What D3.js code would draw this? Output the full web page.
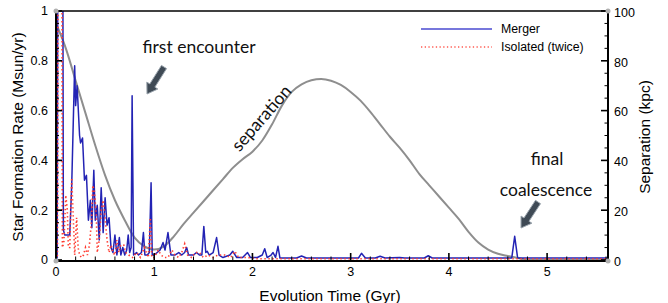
<!DOCTYPE html>
<html><head><meta charset="utf-8">
<script src="https://cdn.jsdelivr.net/npm/d3@7"></script>
<style>body{margin:0;background:#fff}svg{display:block}</style>
</head><body><svg id="c" width="668" height="303"></svg>
<script>
// ---- data ----
const mergerTime = [0,0.012,0.02,0.068,0.075,0.09,0.12,0.14,0.16,0.19,0.20,0.215,0.24,0.25,0.27,0.29,0.31,0.33,0.35,0.365,0.385,0.40,0.42,0.44,0.46,0.48,0.50,0.52,0.54,0.56,0.58,0.60,0.62,0.645,0.66,0.68,0.70,0.72,0.735,0.75,0.765,0.775,0.79,0.82,0.84,0.87,0.89,0.905,0.93,0.95,0.968,0.98,1.00,1.03,1.06,1.09,1.11,1.14,1.17,1.21,1.25,1.28,1.31,1.33,1.35,1.40,1.43,1.46,1.485,1.505,1.525,1.54,1.56,1.60,1.635,1.66,1.70,1.77,1.80,1.84,1.90,1.95,1.98,2.05,2.10,2.125,2.15,2.19,2.21,2.235,2.26,2.28,2.45,2.50,2.55,3.08,3.11,3.15,3.25,3.30,3.35,3.50,3.55,3.75,3.79,3.83,4.64,4.67,4.70,5.62];
const mergerSFR  = [0,0.01,1.5,1.5,0.12,0.10,0.10,0.10,0.30,0.78,0.62,0.70,0.50,0.47,0.49,0.32,0.34,0.16,0.24,0.13,0.36,0.16,0.22,0.08,0.29,0.11,0.25,0.14,0.17,0.05,0.03,0.10,0.02,0.09,0.02,0.05,0.02,0.04,0.10,0.03,0.05,0.66,0.02,0.03,0.02,0.03,0.11,0.02,0.02,0.03,0.31,0.02,0.02,0.03,0.04,0.07,0.04,0.11,0.02,0.02,0.03,0.02,0.03,0.05,0.02,0.02,0.03,0.02,0.02,0.135,0.03,0.035,0.02,0.03,0.09,0.02,0.01,0.02,0.035,0.01,0.01,0.03,0.01,0.01,0.02,0.045,0.01,0.02,0.03,0.01,0.055,0.008,0.008,0.016,0.008,0.008,0.027,0.008,0.008,0.015,0.008,0.01,0.008,0.008,0.017,0.008,0.008,0.095,0.008,0.008];
const isolatedTime = [0,0.015,0.022,0.06,0.065,0.08,0.10,0.115,0.125,0.14,0.16,0.175,0.19,0.21,0.225,0.24,0.26,0.28,0.30,0.32,0.34,0.36,0.375,0.39,0.41,0.42,0.44,0.46,0.48,0.50,0.52,0.54,0.56,0.58,0.60,0.62,0.64,0.66,0.69,0.71,0.74,0.78,0.82,0.86,0.90,0.94,0.96,0.975,1.00,1.04,1.07,1.10,1.14,1.18,1.21,1.25,1.28,1.31,1.34,1.38,1.42,1.46,1.50,1.55,1.60,1.65,1.72,1.78,1.82,1.86,1.95,2.05,5.62];
const isolatedSFR  = [0,0.02,1.5,1.5,0.05,0.07,0.26,0.20,0.05,0.05,0.33,0.18,0.02,0.17,0.05,0.02,0.01,0.02,0.05,0.02,0.06,0.15,0.30,0.28,0.18,0.03,0.08,0.20,0.24,0.17,0.08,0.03,0.06,0.03,0.02,0.08,0.03,0.06,0.06,0.03,0.02,0.01,0.03,0.01,0.05,0.01,0.17,0.01,0.01,0.04,0.02,0.01,0.01,0.04,0.02,0.01,0.03,0.065,0.02,0.01,0.03,0.03,0.01,0.02,0.01,0.02,0.02,0.01,0.035,0.01,0.01,0.005,0.005];
const sepTime = [0,0.1,0.2,0.3,0.4,0.5,0.6,0.7,0.8,0.9,1.0,1.1,1.2,1.3,1.4,1.5,1.6,1.7,1.8,1.9,2.0,2.1,2.2,2.3,2.4,2.5,2.6,2.7,2.8,2.9,3.0,3.1,3.2,3.3,3.4,3.5,3.6,3.7,3.8,3.9,4.0,4.1,4.2,4.3,4.4,4.5,4.6,4.7,4.8,5.62];
const sepKpc  = [95,85,72,59,46,34,24,16,9,5.5,4.2,5.5,9.5,14.5,19,23.5,28,32.5,37,40.5,43.5,48,54.5,62,67.5,70.5,72.2,72.7,72,70.3,67.5,64,59.5,54.5,49.5,45,40,34.5,30,25.5,21,16.5,11.3,7,4.2,2.5,1.6,0.8,0,0];
const xTicks = [0,1,2,3,4,5];
const sfrTicks = [0,0.2,0.4,0.6,0.8,1];
const sepTicks = [0,20,40,60,80,100];
const seriesNames = ["Merger","Isolated (twice)"];

// ---- layout ----
const L=56,R=608,T=11,B=260;
const svg=d3.select("#c");
const x=d3.scaleLinear().domain([0,5.62]).range([L,R]);
const y=d3.scaleLinear().domain([0,1]).range([B,T]);
const y2=d3.scaleLinear().domain([0,100]).range([B,T]);
const helv="'Liberation Sans', Arial, Helvetica, sans-serif";
const gill="Lato, 'Open Sans', sans-serif";

svg.append("clipPath").attr("id","clip").append("rect").attr("x",L).attr("y",T).attr("width",R-L).attr("height",B-T+1);
const g=svg.append("g").attr("clip-path","url(#clip)");

const sepData=sepTime.map((t,i)=>[t,sepKpc[i]]);
g.append("path").datum(sepData).attr("fill","none").attr("stroke","#8e8e8e").attr("stroke-width",2)
 .attr("d",d3.line().x(d=>x(d[0])).y(d=>y2(d[1])).curve(d3.curveMonotoneX));

const mData=mergerTime.map((t,i)=>[t,mergerSFR[i]]);
g.append("path").datum(mData).attr("fill","none").attr("stroke","#2323b4").attr("stroke-width",1.5).attr("stroke-linejoin","round")
 .attr("d",d3.line().x(d=>x(d[0])).y(d=>y(d[1])));

const iData=isolatedTime.map((t,i)=>[t,isolatedSFR[i]]);
g.append("path").datum(iData).attr("fill","none").attr("stroke","#ff3b30").attr("stroke-width",1.6).attr("stroke-dasharray","1.4,2.6")
 .attr("d",d3.line().x(d=>x(d[0])).y(d=>y(d[1])));

// ---- axes ----
const ax=svg.append("g");
// frame
ax.append("line").attr("x1",L).attr("x2",R).attr("y1",T).attr("y2",T).attr("stroke","#000").attr("stroke-width",1.5);
ax.append("line").attr("x1",L).attr("x2",R).attr("y1",B+1).attr("y2",B+1).attr("stroke","#000").attr("stroke-width",2);
ax.append("line").attr("x1",L).attr("x2",L).attr("y1",T).attr("y2",B+1).attr("stroke","#000").attr("stroke-width",2);
ax.append("line").attr("x1",R).attr("x2",R).attr("y1",T).attr("y2",B+1).attr("stroke","#000").attr("stroke-width",2);

// left ticks
d3.range(0,1.0001,0.05).forEach(v=>{
  const maj=Math.abs(v*5-Math.round(v*5))<1e-6;
  ax.append("line").attr("x1",L).attr("x2",L+(maj?6:3)).attr("y1",y(v)).attr("y2",y(v)).attr("stroke","#000").attr("stroke-width",maj?1.6:1);
});
// right ticks
d3.range(0,100.001,5).forEach(v=>{
  const maj=v%20===0;
  ax.append("line").attr("x1",R).attr("x2",R-(maj?7:3.5)).attr("y1",y2(v)).attr("y2",y2(v)).attr("stroke","#000").attr("stroke-width",maj?1.6:1);
});
// bottom ticks
d3.range(0,5.601,0.2).forEach(v=>{
  const maj=Math.abs(v-Math.round(v))<1e-6;
  ax.append("line").attr("x1",x(v)).attr("x2",x(v)).attr("y1",B).attr("y2",B-(maj?7:3.5)).attr("stroke","#000").attr("stroke-width",maj?1.6:1);
});
// corner markers
[[L,T],[L,B+1],[R,T],[R,B+1]].forEach(p=>ax.append("circle").attr("cx",p[0]).attr("cy",p[1]).attr("r",2.5).attr("fill","#b0b0b0"));

// tick labels
const lab=svg.append("g").attr("font-family",helv).attr("font-size",12.5).attr("fill","#000");
sfrTicks.forEach(v=>lab.append("text").attr("x",48).attr("y",y(v)).attr("dy","0.35em").attr("text-anchor","end").text(d3.format("~g")(v)));
sepTicks.forEach(v=>lab.append("text").attr("x",614).attr("y",y2(v)+1.5).attr("dy","0.35em").attr("text-anchor","start").text(v));
xTicks.forEach(v=>lab.append("text").attr("x",x(v)).attr("y",276).attr("text-anchor","middle").text(v));

// axis titles
svg.append("text").attr("x",330).attr("y",301).attr("text-anchor","middle").attr("font-family",helv).attr("font-size",15.5).text("Evolution Time (Gyr)");
svg.append("text").attr("transform","translate(23,137) rotate(-90)").attr("text-anchor","middle").attr("font-family",helv).attr("font-size",15.5).text("Star Formation Rate (Msun/yr)");
svg.append("text").attr("transform","translate(650,137) rotate(-90)").attr("text-anchor","middle").attr("font-family",helv).attr("font-size",15.5).text("Separation (kpc)");

// legend
const lg=svg.append("g").attr("font-family",helv).attr("font-size",12.3);
lg.append("line").attr("x1",421).attr("x2",492).attr("y1",29).attr("y2",29).attr("stroke","#4a4ad0").attr("stroke-width",1.3);
lg.append("line").attr("x1",421).attr("x2",492).attr("y1",47).attr("y2",47).attr("stroke","#ff5a50").attr("stroke-width",1.3).attr("stroke-dasharray","1.3,2.4");
lg.append("text").attr("x",501).attr("y",29).attr("dy","0.35em").text(seriesNames[0]);
lg.append("text").attr("x",501).attr("y",47).attr("dy","0.35em").text(seriesNames[1]);

// annotations
const an=svg.append("g").attr("font-family",gill).attr("font-size",17.5).attr("fill","#111");
an.append("text").attr("x",199).attr("y",53).attr("text-anchor","middle").text("first encounter");
an.append("text").attr("x",547).attr("y",165).attr("text-anchor","middle").text("final");
an.append("text").attr("x",546).attr("y",196).attr("text-anchor","middle").text("coalescence");
an.append("text").attr("transform","translate(266,122) rotate(-49)").attr("text-anchor","middle").text("separation");

function arrow(x1,y1,x2,y2){
  const dx=x2-x1,dy=y2-y1,len=Math.hypot(dx,dy),ux=dx/len,uy=dy/len,px=-uy,py=ux;
  const sw=3,hw=6.5,hl=10;
  const bx=x2-ux*hl,by=y2-uy*hl;
  const pts=[[x1+px*sw,y1+py*sw],[bx+px*sw,by+py*sw],[bx+px*hw,by+py*hw],[x2,y2],[bx-px*hw,by-py*hw],[bx-px*sw,by-py*sw],[x1-px*sw,y1-py*sw]];
  svg.append("polygon").attr("points",pts.map(p=>p.join(",")).join(" ")).attr("fill","#3f4a55").attr("stroke","#9aa4ad").attr("stroke-width",1);
}
arrow(164,67,147,94);
arrow(538,202,521,228);
</script></body></html>
